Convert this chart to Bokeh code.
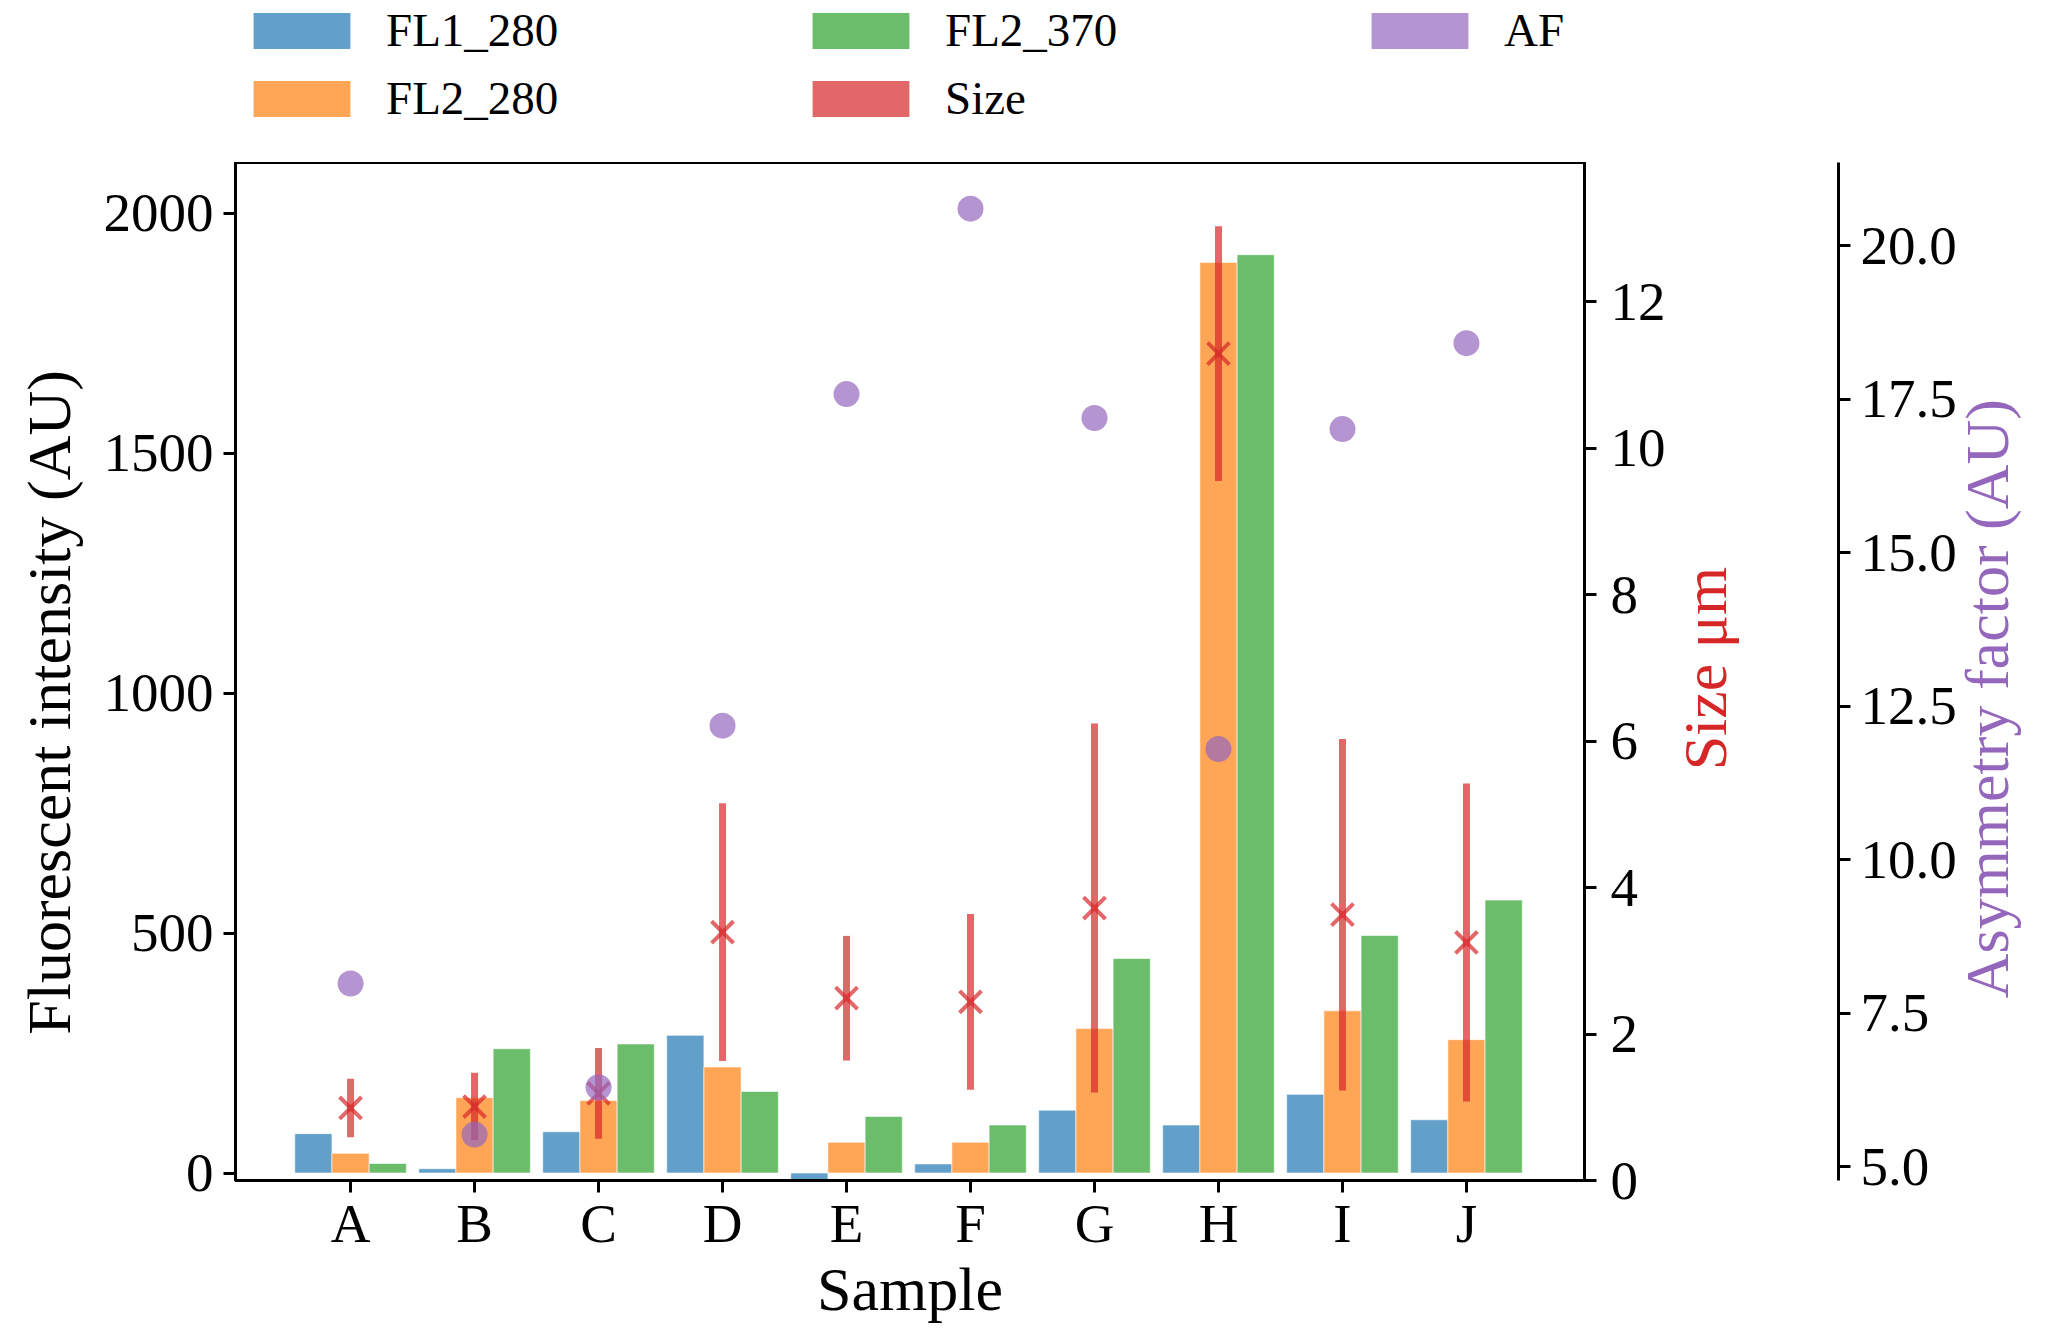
import math
from bokeh.plotting import figure
from bokeh.layouts import column
from bokeh.models import (ColumnDataSource, Range1d, LinearAxis, FixedTicker,
                          Legend, LegendItem, NumeralTickFormatter)
from bokeh.transform import dodge
from bokeh.embed import file_html
from bokeh.resources import INLINE

# values
samples = ["A", "B", "C", "D", "E", "F", "G", "H", "I", "J"]
fl1_280 = [82, 9, 86, 287, -30, 19, 131, 100, 164, 111]
fl2_280 = [41, 157, 151, 221, 64, 64, 301, 1898, 338, 278]
fl2_370 = [20, 259, 269, 170, 118, 100, 447, 1914, 495, 569]
size_mean = [0.99, 1.01, 1.19, 3.39, 2.49, 2.44, 3.72, 11.29, 3.63, 3.25]
size_err = [0.40, 0.46, 0.62, 1.76, 0.85, 1.20, 2.52, 1.74, 2.40, 2.17]
af = [7.98, 5.52, 6.29, 12.18, 17.58, 20.60, 17.19, 11.80, 17.01, 18.41]

left_ticks = [0, 500, 1000, 1500, 2000]
size_ticks = [0, 2, 4, 6, 8, 10, 12]
af_ticks = [5.0, 7.5, 10.0, 12.5, 15.0, 17.5, 20.0]

FONT = "Liberation Serif"
BLUE, ORANGE, GREEN, RED, PURPLE = "#1f77b4", "#ff7f0e", "#2ca02c", "#d62728", "#9467bd"
W = 2059

xpos = list(range(len(samples)))
src = ColumnDataSource(data=dict(
    x=xpos, fl1=fl1_280, fl2=fl2_280, fl3=fl2_370,
    size=size_mean,
    lo=[m - e for m, e in zip(size_mean, size_err)],
    hi=[m + e for m, e in zip(size_mean, size_err)],
    af=af,
))

# ---- legend strip above the chart ----
# hidden proxy bars: only their legend patches are drawn
leg = figure(width=W, height=162, x_axis_type=None, y_axis_type=None,
             x_range=Range1d(-100, -99), y_range=Range1d(0, 1),
             output_backend="svg", toolbar_location=None, min_border=0)
leg.outline_line_color = None
leg.grid.visible = False
proxies = []
for c in (BLUE, ORANGE, GREEN, RED, PURPLE):
    proxies.append(leg.vbar(x="x", top="fl2", source=src, width=0.3, visible=False,
                            fill_color=c, fill_alpha=0.7, line_color=None))
legend = Legend(items=[
    LegendItem(label="FL1_280", renderers=[proxies[0]]),
    LegendItem(label="FL2_280", renderers=[proxies[1]]),
    LegendItem(label="FL2_370", renderers=[proxies[2]]),
    LegendItem(label="Size", renderers=[proxies[3]]),
    LegendItem(label="AF", renderers=[proxies[4]]),
], location=(6, 37), orientation="vertical", nrows=2,
    glyph_width=121, glyph_height=45, label_standoff=24, label_width=400, spacing=14,
    padding=0, margin=0, border_line_color=None, background_fill_alpha=0,
    inactive_fill_alpha=0,
    label_text_font=FONT, label_text_font_size="47px", label_text_color="black")
leg.add_layout(legend, "center")

# ---- main chart ----
p = figure(width=W, height=1165,
           x_range=Range1d(-0.928, 9.952), y_range=Range1d(-15.6, 2106.3),
           output_backend="svg", toolbar_location=None,
           min_border_left=235, min_border_top=0, min_border_bottom=147, min_border_right=W - 1584,
           x_axis_label="Sample",
           y_axis_label="Fluorescent intensity (AU)\u00a0\u00a0\u00a0\u00a0")
p.extra_y_ranges = {"size": Range1d(0, 13.9), "af": Range1d(4.772, 21.352)}
p.grid.visible = False
p.outline_line_color = "black"
p.outline_line_width = 3
p.outline_line_alpha = 1


def style_axis(ax):
    ax.axis_line_width = 3
    ax.axis_line_color = "black"
    ax.major_tick_out = 12
    ax.major_tick_in = 0
    ax.major_tick_line_width = 3
    ax.minor_tick_line_color = None
    ax.major_label_standoff = 14
    ax.major_label_text_font = FONT
    ax.major_label_text_font_size = "55px"
    ax.major_label_text_color = "black"
    ax.axis_label_text_font = FONT
    ax.axis_label_text_font_size = "62px"
    ax.axis_label_text_font_style = "normal"
    ax.axis_label_text_color = "black"
    ax.axis_label_standoff = 10


def label_axis(range_name, at, text, color, standoff):
    # axis whose single tick label is the rotated title of the axis before it
    ax = LinearAxis(y_range_name=range_name, ticker=FixedTicker(ticks=[at]),
                    major_label_overrides={at: text})
    ax.axis_line_color = None
    ax.major_tick_line_color = None
    ax.minor_tick_line_color = None
    ax.major_tick_out = 0
    ax.major_tick_in = 0
    ax.major_label_standoff = standoff
    ax.major_label_orientation = math.pi / 2
    ax.major_label_text_font = FONT
    ax.major_label_text_font_size = "62px"
    ax.major_label_text_color = color
    return ax


bar_kw = dict(source=src, width=0.3, fill_alpha=0.7, line_color="white", line_alpha=0.6, line_width=1)
r1 = p.vbar(x=dodge("x", -0.3), top="fl1", fill_color=BLUE, **bar_kw)
r2 = p.vbar(x="x", top="fl2", fill_color=ORANGE, **bar_kw)
r3 = p.vbar(x=dodge("x", 0.3), top="fl3", fill_color=GREEN, **bar_kw)

p.segment(x0="x", y0="lo", x1="x", y1="hi", source=src, y_range_name="size",
          line_color=RED, line_alpha=0.7, line_width=7)
p.scatter(x="x", y="size", source=src, y_range_name="size", marker="x", size=31,
          line_color=RED, line_alpha=0.7, line_width=4)
p.scatter(x="x", y="af", source=src, y_range_name="af", marker="circle", size=26,
          fill_color=PURPLE, fill_alpha=0.7, line_color=None)

style_axis(p.xaxis[0])
p.xaxis[0].ticker = FixedTicker(ticks=xpos)
p.xaxis[0].major_label_overrides = {i: s for i, s in zip(xpos, samples)}
p.xaxis[0].major_label_standoff = 0
p.xaxis[0].axis_label_standoff = -2

style_axis(p.yaxis[0])
p.yaxis[0].ticker = FixedTicker(ticks=left_ticks)
p.yaxis[0].major_label_standoff = 10
p.yaxis[0].axis_label_standoff = 18

size_axis = LinearAxis(y_range_name="size", ticker=FixedTicker(ticks=size_ticks))
style_axis(size_axis)
p.add_layout(size_axis, "right")
p.add_layout(label_axis("size", 5.6, "Size \u03bcm", RED, 37), "right")

spacer = LinearAxis(y_range_name="size", ticker=FixedTicker(ticks=[6]),
                    major_label_overrides={6: "0"},
                    axis_line_color=None, major_tick_line_color=None,
                    minor_tick_line_color=None, major_tick_out=62, major_tick_in=0,
                    major_label_standoff=0, major_label_text_font_size="2px",
                    major_label_text_alpha=0)
p.add_layout(spacer, "right")

af_axis = LinearAxis(y_range_name="af", ticker=FixedTicker(ticks=af_ticks),
                     formatter=NumeralTickFormatter(format="0.0"))
style_axis(af_axis)
af_axis.major_label_standoff = 10
p.add_layout(af_axis, "right")
p.add_layout(label_axis("af", 7.74, "Asymmetry factor (AU)", PURPLE, 28), "right")

open("out.html", "w").write(file_html(column(leg, p, spacing=0), INLINE))
